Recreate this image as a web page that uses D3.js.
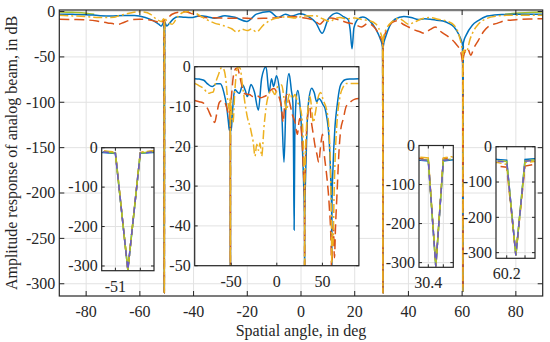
<!DOCTYPE html>
<html>
<head>
<meta charset="utf-8">
<script src="https://cdn.jsdelivr.net/npm/d3@7"></script>
<style>
  body { margin: 0; background: #fff; font-family: "Liberation Serif", serif; }
  svg { display: block; font-family: "Liberation Serif", serif; }
  svg text { font-family: "Liberation Serif", serif; }
</style>
</head>
<body>
<div id="chart"></div>
<script>
// Series data: spatial angle (deg) and amplitude (dB)
const blueAng = [-90,-85,-80,-75.5,-71,-66,-62,-58,-55,-53,-52,-51.1,-51,-50.9,-50.8,-50.7,-50,-49,-47.5,-45.8,-43.5,-41.1,-37.4,-34.5,-32.3,-28.3,-24.6,-20.2,-16.6,-11.8,-8.5,-5.8,-3.5,-0.3,3,5.5,7.9,10.2,13.4,16,17.6,18.3,19,19.7,21.3,23,25.5,28,29.5,30.3,30.4,30.5,30.6,30.7,31.5,33,35,38.3,41,43.7,46,48.1,50.5,52.9,55,57,58.7,59.7,60.1,60.2,60.3,60.4,60.5,61.5,63.8,66,69.3,72,74.8,80,90];
const blueDb  = [-3.0,-3.1,-3.4,-4.4,-5.0,-4.3,-4.3,-6.5,-10,-14,-16,-12,-15,-310,-14,-12,-16,-13,-8,-5.7,-6.3,-6.7,-4.6,-6,-7.5,-4.5,-6.3,-10.9,-2.9,0,-6.5,-3.0,-5.0,-2.3,-6,-12,-24,-8,-1.7,-6,-9,-20,-41,-18,-8,-6,-10,-20,-30,-38,-40,-310,-40,-37,-28,-16,-8.5,-5.4,-6.5,-8.8,-8.0,-8.4,-9.5,-10.5,-13,-17,-25,-32,-36,-38,-308,-36,-34,-26,-15,-10,-5,-3.8,-3.3,-3.1,-3.0];

const redAng = [-90,-85,-80,-76,-72,-68,-66,-63,-60,-57,-54,-52,-51.1,-51,-50.9,-50.8,-50.7,-50,-48,-45,-43,-41,-38,-35,-30,-26,-22,-18,-14,-10,-7,-3,0,3,5,7,8.5,11,14,17,20,22.5,25,27.5,29.5,30.3,30.4,30.5,30.6,30.7,32,34,36,38,40,42,44,46,48,50,52,55,57.5,59.5,60.1,60.2,60.3,60.4,60.5,62,63.2,64.4,66,68,70,73,76,80,85,90];
const redDb  = [-8.5,-8.8,-9.2,-10.5,-12.5,-14,-12,-9,-8.5,-9,-11,-13,-9,-12.5,-310,-12.5,-9,-8,-3,-0.5,-0.3,-2,-5,-6.8,-7,-7.5,-7.2,-7.8,-7.5,-7,-6,-5.5,-6.5,-8,-10,-14,-10,-7,-9,-12,-14,-17,-13,-18,-28,-33,-35,-310,-34,-31,-20,-12,-10,-14,-17,-20,-22,-24,-20,-17,-22,-28,-35,-45,-55,-58,-305,-55,-50,-40,-48,-40,-32,-22,-16,-13,-10,-9,-8.2,-8];

const orangeAng = [-90,-85,-80.6,-75,-72,-69.6,-67.8,-64,-60.4,-58.5,-56,-54,-52,-51.1,-51,-50.9,-50.8,-50.7,-50,-48,-46,-44,-42,-40,-38,-35,-32,-29.4,-27.5,-25.8,-23.9,-22,-20,-18.4,-16.6,-14,-11.1,-8,-5.6,-2,1,5.4,8,10.9,12.5,14.5,17,20,23,25.4,28,29.8,30.3,30.4,30.5,30.6,30.7,32,34,36.4,38,40,42,45,48,51,54.7,57,59,60.1,60.2,60.3,60.4,60.5,61.5,63,64.5,66,69.3,73,76.6,80,90];
const orangeDb  = [-4.2,-4.8,-5.4,-6.7,-6.5,-6.3,-4.6,-2,-0.2,-0.5,-3,-8,-11,-8,-11,-310,-11,-8,-10,-14,-6,-1,0,-0.5,-4,-9,-13,-15,-17,-19,-22.5,-19.5,-21,-19.2,-22.5,-15,-9.2,-6.5,-5.9,-7,-5,-4.6,-8,-10.9,-8,-6.7,-8,-7,-9,-10,-14,-25,-30,-32,-310,-32,-29,-18,-11,-7.5,-10,-14,-12,-8,-6.5,-8.5,-10.9,-15,-28,-45,-50,-308,-45,-42,-45,-30,-20,-14,-7.5,-5,-4.2,-4.2,-4.2];

// the two reference curves only show near the edges and inside the nulls (null = gap)
const greenAng = [-90,-85,-80,-77,-76,-51.1,-51,-50.9,-50.8,-50.7,-50,30.3,30.4,30.5,30.6,30.7,31,60.1,60.2,60.3,60.4,60.5,61,76,80,85,90];
const greenDb  = [-0.4,-0.9,-1.8,-3.0,null,-10.5,-13.5,-310,-13.5,-10.5,null,-36,-37,-310,-37,-35,null,-40,-42,-308,-40,-38,null,-3.0,-1.8,-1.0,-0.6];
const purpleAng = [-51.1,-51,-50.9,-50.8,-50.7,-50,30.3,30.4,30.5,30.6,30.7,31,60.1,60.2,60.3,60.4,60.5];
const purpleDb  = [-11,-14,-310,-14,-11,null,-37,-38,-310,-38,-36,null,-41,-43,-308,-41,-39];

const xTicksMain = [-80,-60,-40,-20,0,20,40,60,80];
const yTicksMain = [0,-50,-100,-150,-200,-250,-300];
const xTicksBig = [-50,0,50];
const yTicksBig = [0,-10,-20,-30,-40,-50];
const yTicksSmall = [0,-100,-200,-300];
const zoomTicks = [[-51,-50.8],[30.4,30.6],[60.2,60.4]];
const zoomLabels = ["-51","30.4","60.2"];

const toPts = (a, d) => a.map((v, i) => ({x: v, y: d[i]}));
const series = {
  blue:   {pts: toPts(blueAng, blueDb),     color: "#0072BD", dash: null},
  red:    {pts: toPts(redAng, redDb),       color: "#D95319", dash: "10,5"},
  orange: {pts: toPts(orangeAng, orangeDb), color: "#EDB120", dash: "9,3,2,3"},
  green:  {pts: toPts(greenAng, greenDb),   color: "#A6C22A", dash: null},
  purple: {pts: toPts(purpleAng, purpleDb), color: "#6A5BC8", dash: "6,5"}
};

const W = 550, H = 342;
const svg = d3.select("#chart").append("svg").attr("width", W).attr("height", H);
const axisColor = "#262626", gridColor = "#e2e2e2";
let clipId = 0;

function label(sel) {
  return sel.style("font-family", "Liberation Serif").style("font-size", "16px").attr("fill", axisColor);
}

function panel(o) {
  const x = d3.scaleLinear().domain(o.xd).range([o.x0, o.x1]);
  const y = d3.scaleLinear().domain(o.yd).range([o.y1, o.y0]);
  const g = svg.append("g");
  const id = "clip" + (clipId++);
  g.append("clipPath").attr("id", id).append("rect")
    .attr("x", o.x0).attr("y", o.y0).attr("width", o.x1 - o.x0).attr("height", o.y1 - o.y0);

  if (o.bg) g.append("rect").attr("x", o.x0).attr("y", o.y0)
    .attr("width", o.x1 - o.x0).attr("height", o.y1 - o.y0).attr("fill", "#fff");

  // grid
  g.selectAll(null).data(o.xt).enter().append("line")
    .attr("x1", d => x(d)).attr("x2", d => x(d)).attr("y1", o.y0).attr("y2", o.y1)
    .attr("stroke", gridColor).attr("stroke-width", 1);
  g.selectAll(null).data(o.yt).enter().append("line")
    .attr("y1", d => y(d)).attr("y2", d => y(d)).attr("x1", o.x0).attr("x2", o.x1)
    .attr("stroke", gridColor).attr("stroke-width", 1);

  // curves
  const line = d3.line().defined(d => d.y !== null).x(d => x(d.x)).y(d => y(d.y))
    .curve(o.smooth ? d3.curveMonotoneX : d3.curveLinear);
  const lines = g.append("g").attr("clip-path", `url(#${id})`);
  o.order.forEach(k => {
    const s = series[k];
    lines.append("path").datum(s.pts)
      .attr("d", line).attr("fill", "none")
      .attr("stroke", s.color).attr("stroke-width", 1.5)
      .attr("stroke-dasharray", s.dash);
  });

  // box and inward ticks on every side
  g.append("rect").attr("x", o.x0).attr("y", o.y0)
    .attr("width", o.x1 - o.x0).attr("height", o.y1 - o.y0)
    .attr("fill", "none").attr("stroke", axisColor).attr("stroke-width", 1.2);
  const tl = o.tick;
  o.xt.forEach(d => {
    g.append("line").attr("x1", x(d)).attr("x2", x(d)).attr("y1", o.y1).attr("y2", o.y1 - tl).attr("stroke", axisColor);
    g.append("line").attr("x1", x(d)).attr("x2", x(d)).attr("y1", o.y0).attr("y2", o.y0 + tl).attr("stroke", axisColor);
  });
  o.yt.forEach(d => {
    g.append("line").attr("y1", y(d)).attr("y2", y(d)).attr("x1", o.x0).attr("x2", o.x0 + tl).attr("stroke", axisColor);
    g.append("line").attr("y1", y(d)).attr("y2", y(d)).attr("x1", o.x1).attr("x2", o.x1 - tl).attr("stroke", axisColor);
  });

  // tick labels
  g.selectAll(null).data(o.xt).enter().append("text")
    .attr("x", d => x(d)).attr("y", o.y1 + 21)
    .attr("text-anchor", "middle").call(label)
    .text((d, i) => o.xl ? o.xl[i] : d);
  g.selectAll(null).data(o.yt).enter().append("text")
    .attr("x", o.x0 - 4).attr("y", d => y(d)).attr("dy", "0.33em")
    .attr("text-anchor", "end").call(label)
    .text(d => d);
}

// main axes
panel({xd: [-90, 90], yd: [-313.5, 1.7], x0: 59.3, x1: 542.7, y0: 10, y1: 296, smooth: true,
  xt: xTicksMain, yt: yTicksMain, tick: 5, order: ["green", "purple", "blue", "red", "orange"]});

// large inset, same curves clipped to [-50, 0] dB
panel({xd: [-90, 90], yd: [-50, 0], x0: 194.7, x1: 358.9, y0: 66.7, y1: 265.7, bg: true, smooth: true,
  xt: xTicksBig, yt: yTicksBig, tick: 3, order: ["blue", "red", "orange"]});

// null close-ups
const zooms = [
  {xd: [-51.11, -50.69], x0: 101.7, x1: 154, y0: 147.7, y1: 270.7, yd: [-312, 0]},
  {xd: [30.276, 30.733], x0: 419, x1: 453.3, y0: 145.5, y1: 267.3, yd: [-312, 0]},
  {xd: [60.083, 60.509], x0: 496, x1: 535, y0: 146.7, y1: 258.3, yd: [-316, 0]}
];
zooms.forEach((z, i) => panel(Object.assign(z, {
  bg: true, xt: zoomTicks[i], yt: yTicksSmall, tick: 3,
  xl: [zoomLabels[i], ""], order: ["blue", "red", "orange", "green", "purple"]
})));

// axis titles
svg.append("text").attr("x", 301).attr("y", 336).attr("text-anchor", "middle")
  .call(label).text("Spatial angle, in deg");
svg.append("text").attr("transform", "translate(17,153) rotate(-90)")
  .attr("text-anchor", "middle").call(label)
  .text("Amplitude response of analog beam, in dB");
</script>
</body>
</html>
